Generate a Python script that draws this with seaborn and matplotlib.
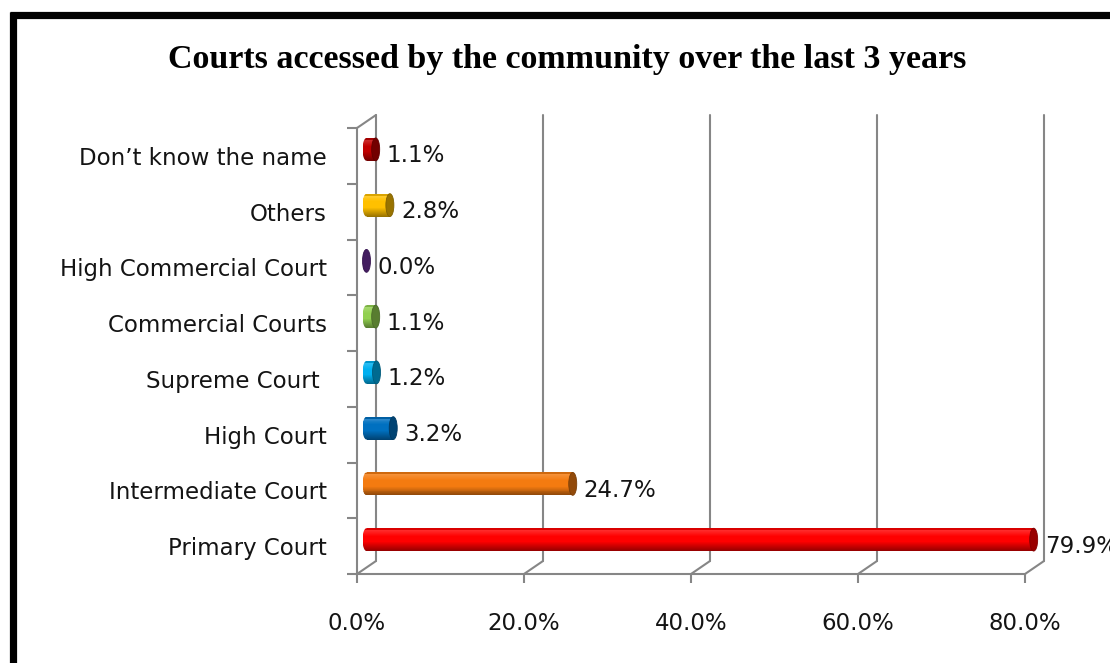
import matplotlib
matplotlib.use("Agg")
import matplotlib.pyplot as plt
import matplotlib.colors as mcolors
from matplotlib.patches import Ellipse, Rectangle
from matplotlib.lines import Line2D
import numpy as np
import pandas as pd
import seaborn as sns

# ---- data -------------------------------------------------------------
categories = ["Don’t know the name", "Others", "High Commercial Court",
              "Commercial Courts", "Supreme Court ", "High Court",
              "Intermediate Court", "Primary Court"]
shares = [1.1, 2.8, 0.0, 1.1, 1.2, 3.2, 24.7, 79.9]
bar_colors = ["#C00000", "#FFC000", "#7030A0", "#92D050",
              "#00B0F0", "#0070C0", "#F47B10", "#FF0000"]
x_ticks = [0, 20, 40, 60, 80]
x_tick_labels = ["0.0%", "20.0%", "40.0%", "60.0%", "80.0%"]
title = "Courts accessed by the community over the last 3 years"

# ---- style --------------------------------------------------------------
sns.set_theme(style="white")
plt.rcParams["font.family"] = ["DejaVu Sans"]
GRID = "#868686"
TEXT = "#141414"
FS = 16.5

W, H = 1110, 663
fig = plt.figure(figsize=(W / 100, H / 100), dpi=100)
fig.patch.set_facecolor("white")
ax = fig.add_axes([357 / W, 1 - 574 / H, 668 / W, 446 / H])

df = pd.DataFrame({"court": categories, "share": shares})
sns.barplot(data=df, x="share", y="court", hue="court", palette=bar_colors,
            width=0.41, orient="h", legend=False, saturation=1, ax=ax,
            zorder=3)

n = len(categories)
ax.set_xlim(x_ticks[0], x_ticks[-1])
ax.set_ylim(n - 0.5, -0.5)
ax.set_xlabel("")
ax.set_ylabel("")

# pixel scale of the data axes and the depth of the 3-D box
px_x = ax.bbox.width / (x_ticks[-1] - x_ticks[0])
px_y = ax.bbox.height / n
depth_x = 19 / px_x          # back wall sits 19 px to the right ...
depth_y = -13 / px_y         # ... and 13 px higher (y axis is inverted)
cap_w = 8 / px_x             # cylinder end-cap width
label_gap = 7 / px_x

# ---- 3-D frame: back gridlines, floor diagonals, side wall -------------
y_top, y_bot = -0.5, n - 0.5
for t in x_ticks:
    ax.add_line(Line2D([t + depth_x, t + depth_x], [y_bot + depth_y, y_top + depth_y],
                       color=GRID, lw=1.5, clip_on=False, zorder=1))
    ax.add_line(Line2D([t, t + depth_x], [y_bot, y_bot + depth_y],
                       color=GRID, lw=1.5, clip_on=False, zorder=1))
ax.add_line(Line2D([0, depth_x], [y_top, y_top + depth_y],
                   color=GRID, lw=1.5, clip_on=False, zorder=1))


def cylinder_shade(rgb, t):
    """Colour of a cylinder at fraction t from its top edge to its bottom edge."""
    rgb = np.asarray(rgb)
    if t < 0.08:
        return rgb * 0.85
    if t < 0.35:
        k = 0.18 * (1 - (t - 0.08) / 0.27)
        return rgb + (1 - rgb) * k
    if t < 0.6:
        return rgb
    k = 0.42 * (t - 0.6) / 0.4
    return rgb * (1 - k)


# ---- cylinders ----------------------------------------------------------
strips = 24
for patch, value, color in zip(ax.patches, shares, bar_colors):
    x0, w = patch.get_x(), patch.get_width()
    y0, h = patch.get_y(), patch.get_height()
    # bars sit half-way into the depth of the box
    x0m, y0m = x0 + depth_x / 2, y0 + depth_y / 2
    patch.set_x(x0m)
    patch.set_y(y0m)
    patch.set_clip_on(False)
    patch.set_linewidth(0)
    base = mcolors.to_rgb(color)
    dark = tuple(c * 0.6 for c in base)
    # rounded left end: an ellipse used as clip outline for the shading
    left_end = Ellipse((x0m, y0m + h / 2), cap_w, h, facecolor="none", lw=0,
                       zorder=2.9)
    ax.add_patch(left_end)
    # vertical shading gives the round look
    for k in range(strips):
        tk = (k + 0.5) / strips
        shade = cylinder_shade(base, tk)
        ax.add_patch(Rectangle((x0m, y0m + k * h / strips), w, h / strips * 1.15,
                               facecolor=shade, lw=0, clip_on=False, zorder=3.1))
        end_strip = Rectangle((x0m - cap_w / 2, y0m + k * h / strips), cap_w / 2,
                              h / strips * 1.15, facecolor=shade, lw=0, zorder=3.0)
        ax.add_patch(end_strip)
        end_strip.set_clip_path(left_end)
    ax.add_patch(Ellipse((x0m + w, y0m + h / 2), cap_w, h, facecolor=dark,
                         edgecolor=tuple(c * 0.85 for c in dark), lw=0.6,
                         clip_on=False, zorder=3.2))
    ax.text(x0m + w + cap_w / 2 + label_gap, y0 + h / 2, f"{value:.1f}%",
            ha="left", va="center", fontsize=FS, color=TEXT, zorder=4,
            clip_on=False)

# ---- axes ---------------------------------------------------------------
for side in ("top", "right"):
    ax.spines[side].set_visible(False)
for side in ("left", "bottom"):
    ax.spines[side].set_color(GRID)
    ax.spines[side].set_linewidth(1.5)
    ax.spines[side].set_zorder(2)

ax.set_xticks(x_ticks)
ax.set_xticklabels(x_tick_labels)
ax.tick_params(axis="x", which="major", bottom=True, length=6.5, width=1.5,
               color=GRID, pad=21, labelsize=FS, labelcolor=TEXT)
ax.set_yticks([i - 0.5 for i in range(n + 1)], minor=True)
ax.tick_params(axis="y", which="minor", left=True, length=7.2, width=1.5,
               color=GRID)
ax.tick_params(axis="y", which="major", left=False, length=0, pad=21.6,
               labelsize=FS, labelcolor=TEXT)
ax.grid(False)

# ---- title and frame ----------------------------------------------------
fig.text(567.5 / W, 1 - 68 / H, title, ha="center", va="baseline",
         family="Liberation Serif", weight="bold", fontsize=24.5, color="black")

fig.add_artist(Line2D([13 / W, 13 / W], [1 - 12 / H, -0.05], transform=fig.transFigure,
                      color="black", lw=5.2, solid_capstyle="butt"))
fig.add_artist(Line2D([9.5 / W, 1.05], [1 - 15.3 / H, 1 - 15.3 / H], transform=fig.transFigure,
                      color="black", lw=5.2, solid_capstyle="butt"))

fig.savefig("out.png", dpi=100)
